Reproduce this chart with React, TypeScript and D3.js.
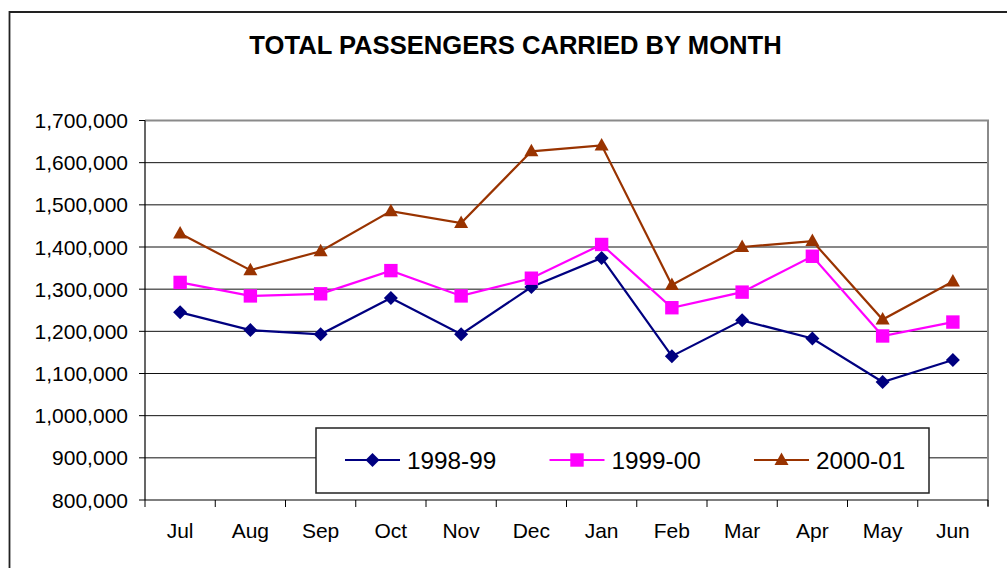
import React from "react";
import * as d3 from "d3";

const months = ["Jul", "Aug", "Sep", "Oct", "Nov", "Dec", "Jan", "Feb", "Mar", "Apr", "May", "Jun"];
const s1998 = [1245000, 1203000, 1193000, 1279000, 1193000, 1305000, 1374000, 1141000, 1226000, 1183000, 1080000, 1132000];
const s1999 = [1316000, 1284000, 1289000, 1344000, 1284000, 1326000, 1406000, 1256000, 1293000, 1378000, 1189000, 1222000];
const s2000 = [1432000, 1345000, 1390000, 1485000, 1457000, 1627000, 1641000, 1310000, 1400000, 1414000, 1228000, 1318000];
const seriesNames = ["1998-99", "1999-00", "2000-01"];
const yTicks = [800000, 900000, 1000000, 1100000, 1200000, 1300000, 1400000, 1500000, 1600000, 1700000];
const title = "TOTAL PASSENGERS CARRIED BY MONTH";

const W = 1007;
const H = 568;
const L = 145, R = 988, T = 120.5, B = 500;
const FONT = "'Liberation Sans', Arial, Helvetica, sans-serif";

const colors = ["#000080", "#FF00FF", "#993300"];
const shapes = ["diamond", "square", "triangle"];

function Marker({ shape, x, y, color }: { shape: string; x: number; y: number; color: string }) {
  if (shape === "diamond") {
    const r = 7;
    return <path d={`M${x},${y - r}L${x + r},${y}L${x},${y + r}L${x - r},${y}Z`} fill={color} />;
  }
  if (shape === "square") {
    const s = 6.7;
    return <rect x={x - s} y={y - s} width={2 * s} height={2 * s} fill={color} />;
  }
  const h = 12.5, w = 14;
  return <path d={`M${x},${y - h * 0.6}L${x + w / 2},${y + h * 0.4}L${x - w / 2},${y + h * 0.4}Z`} fill={color} />;
}

export default function App() {
  const x = d3.scaleBand<string>().domain(months).range([L, R]);
  const y = d3.scaleLinear().domain([800000, 1700000]).range([B, T]);
  const fmt = d3.format(",");
  const cx = (m: string) => (x(m) as number) + x.bandwidth() / 2;
  const data = [s1998, s1999, s2000];
  const line = d3
    .line<number>()
    .x((_, i) => cx(months[i]))
    .y((v) => y(v));

  const bounds = months.map((m) => x(m) as number).concat([R]);
  const legendX = [345, 549.5, 754];

  return (
    <svg width={W} height={H} style={{ position: "absolute", left: 0, top: 0, background: "#fff" }} fontFamily={FONT}>
      <rect x={0} y={0} width={W} height={H} fill="#fff" />
      {/* outer border */}
      <path d={`M9.5,${H + 5}V12H${W + 10}`} fill="none" stroke="#222" strokeWidth={1.8} />
      <text x={515.5} y={54} textAnchor="middle" fontWeight="bold" fontSize={25.6} fill="#000">
        {title}
      </text>

      {/* gridlines */}
      {yTicks.slice(1, -1).map((t) => (
        <line key={t} x1={L} x2={R} y1={y(t)} y2={y(t)} stroke="#111" strokeWidth={1} />
      ))}
      {/* plot frame top/right gray */}
      <path d={`M${L},${y(1700000)}H${R}V${B + 6}`} fill="none" stroke="#8a8a8a" strokeWidth={2} />

      {/* y axis */}
      <line x1={L} x2={L} y1={T} y2={B} stroke="#000" strokeWidth={1.2} />
      {yTicks.map((t) => (
        <g key={t}>
          <line x1={L - 6} x2={L} y1={y(t)} y2={y(t)} stroke="#000" strokeWidth={1} />
          <text x={128} y={y(t) + 7.5} textAnchor="end" fontSize={21} fill="#000">
            {fmt(t)}
          </text>
        </g>
      ))}

      {/* x axis */}
      <line x1={L} x2={R} y1={B} y2={B} stroke="#000" strokeWidth={1.2} />
      {bounds.map((bx, i) => (
        <line key={i} x1={bx} x2={bx} y1={B} y2={B + 7} stroke="#000" strokeWidth={1} />
      ))}
      {months.map((m) => (
        <text key={m} x={cx(m)} y={538} textAnchor="middle" fontSize={21} fill="#000">
          {m}
        </text>
      ))}

      {/* series */}
      {data.map((vals, si) => (
        <g key={si}>
          <path d={line(vals) || ""} fill="none" stroke={colors[si]} strokeWidth={2.2} />
          {vals.map((v, i) => (
            <Marker key={i} shape={shapes[si]} x={cx(months[i])} y={y(v)} color={colors[si]} />
          ))}
        </g>
      ))}

      {/* legend */}
      <rect x={316} y={428} width={613} height={65} fill="#fff" stroke="#222" strokeWidth={1.5} />
      {seriesNames.map((n, si) => (
        <g key={n}>
          <line x1={legendX[si]} x2={legendX[si] + 55} y1={460} y2={460} stroke={colors[si]} strokeWidth={2.2} />
          <Marker shape={shapes[si]} x={legendX[si] + 27.5} y={460} color={colors[si]} />
          <text x={legendX[si] + 62} y={469} fontSize={24.3} fill="#000">
            {n}
          </text>
        </g>
      ))}
    </svg>
  );
}
